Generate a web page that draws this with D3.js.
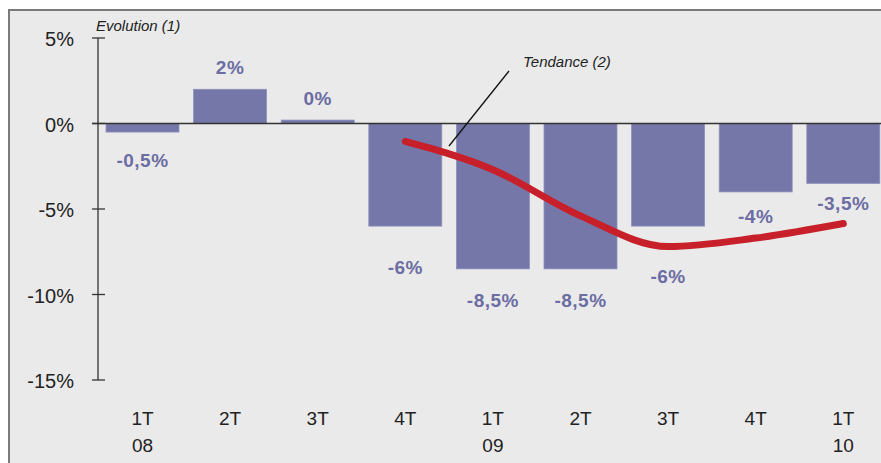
<!DOCTYPE html>
<html>
<head>
<meta charset="utf-8">
<script src="https://cdn.jsdelivr.net/npm/d3@7"></script>
<style>
    body { margin: 0; background: #fff; }
    text { font-family: "Liberation Sans", Arial, sans-serif; }
</style>
</head>
<body>
<svg id="chart" width="881" height="463"></svg>
<script>
// Quarters and their second label line
const quarters = ["1T08", "2T08", "3T08", "4T08", "1T09", "2T09", "3T09", "4T09", "1T10"];
const quarterLabels = ["1T", "2T", "3T", "4T", "1T", "2T", "3T", "4T", "1T"];
const yearLabels = ["08", "", "", "", "09", "", "", "", "10"];

// Evolution (1), in %
const evolution = [-0.5, 2, 0.2, -6, -8.5, -8.5, -6, -4, -3.5];
const evolutionText = ["-0,5%", "2%", "0%", "-6%", "-8,5%", "-8,5%", "-6%", "-4%", "-3,5%"];

// Tendance (2), starts at 4T08
const trendQuarters = ["4T08", "1T09", "2T09", "3T09", "4T09", "1T10"];
const trendValues = [-1.05, -2.7, -5.4, -7.2, -6.7, -5.85];

const yTicks = [5, 0, -5, -10, -15];

// label distance from the bar end, px (layout only)
const labelGap = [35, 15, 15, 48, 38, 38, 57, 31, 27];

const svg = d3.select("#chart");
const width = +svg.attr("width");
const height = +svg.attr("height");

// frame
svg.append("rect")
    .attr("x", 9).attr("y", 10)
    .attr("width", width).attr("height", height)
    .attr("fill", "#eaeaea")
    .attr("stroke", "#7a7a7a")
    .attr("stroke-width", 2);

const step = 87.6;
const x = d3.scaleBand()
    .domain(quarters)
    .range([98.7, 98.7 + step * quarters.length])
    .paddingInner(0.167)
    .paddingOuter(0.0835);

const y = d3.scaleLinear()
    .domain([-15, 5])
    .range([380, 38]);

// bars
svg.append("g")
    .selectAll("rect")
    .data(evolution)
    .enter()
    .append("rect")
    .attr("x", (d, i) => x(quarters[i]))
    .attr("y", d => y(Math.max(0, d)))
    .attr("width", x.bandwidth())
    .attr("height", d => Math.abs(y(d) - y(0)))
    .attr("fill", "#7577a8")
    .attr("stroke", "#8d8fbb")
    .attr("stroke-width", 0.8);

// y axis
const yAxis = svg.append("g");
yAxis.append("line")
    .attr("x1", 98).attr("x2", 98)
    .attr("y1", y(5)).attr("y2", y(-15))
    .attr("stroke", "#333").attr("stroke-width", 1.3);
yAxis.selectAll(".tick")
    .data(yTicks)
    .enter()
    .append("line")
    .attr("x1", 92).attr("x2", 105)
    .attr("y1", d => y(d)).attr("y2", d => y(d))
    .attr("stroke", "#333").attr("stroke-width", 1.3);
yAxis.selectAll("text")
    .data(yTicks)
    .enter()
    .append("text")
    .attr("x", 74)
    .attr("y", d => y(d) + 8)
    .attr("text-anchor", "end")
    .style("font-size", "20px")
    .style("fill", "#222")
    .text(d => d + "%");

// zero line
svg.append("line")
    .attr("x1", 92).attr("x2", width)
    .attr("y1", y(0)).attr("y2", y(0))
    .attr("stroke", "#333").attr("stroke-width", 1.5);

// x labels
const xLab = svg.append("g");
quarters.forEach((q, i) => {
    const cx = x(q) + x.bandwidth() / 2;
    xLab.append("text")
        .attr("x", cx).attr("y", 425)
        .attr("text-anchor", "middle")
        .style("font-size", "19px")
        .style("fill", "#222")
        .text(quarterLabels[i]);
    if (yearLabels[i]) {
        xLab.append("text")
            .attr("x", cx).attr("y", 452)
            .attr("text-anchor", "middle")
            .style("font-size", "19px")
            .style("fill", "#222")
            .text(yearLabels[i]);
    }
});

// value labels
svg.append("g")
    .selectAll("text")
    .data(evolution)
    .enter()
    .append("text")
    .attr("x", (d, i) => x(quarters[i]) + x.bandwidth() / 2)
    .attr("y", (d, i) => d >= 0 ? y(d) - labelGap[i] : y(d) + labelGap[i])
    .attr("text-anchor", "middle")
    .style("font-size", "19px")
    .style("font-weight", "bold")
    .style("letter-spacing", "0.5px")
    .style("fill", "#6b6da3")
    .text((d, i) => evolutionText[i]);

// trend line
const line = d3.line()
    .x((d, i) => x(trendQuarters[i]) + x.bandwidth() / 2)
    .y(d => y(d))
    .curve(d3.curveMonotoneX);

svg.append("path")
    .datum(trendValues)
    .attr("d", line)
    .attr("fill", "none")
    .attr("stroke", "#c8202a")
    .attr("stroke-width", 7)
    .attr("stroke-linecap", "round");

// annotations
svg.append("line")
    .attr("x1", 449).attr("y1", 146)
    .attr("x2", 509).attr("y2", 71)
    .attr("stroke", "#111").attr("stroke-width", 1.3);

svg.append("text")
    .attr("x", 523).attr("y", 67)
    .style("font-size", "15px")
    .style("font-style", "italic")
    .style("fill", "#222")
    .text("Tendance (2)");

svg.append("text")
    .attr("x", 96).attr("y", 31)
    .style("font-size", "15px")
    .style("font-style", "italic")
    .style("fill", "#222")
    .text("Evolution (1)");
</script>
</body>
</html>
